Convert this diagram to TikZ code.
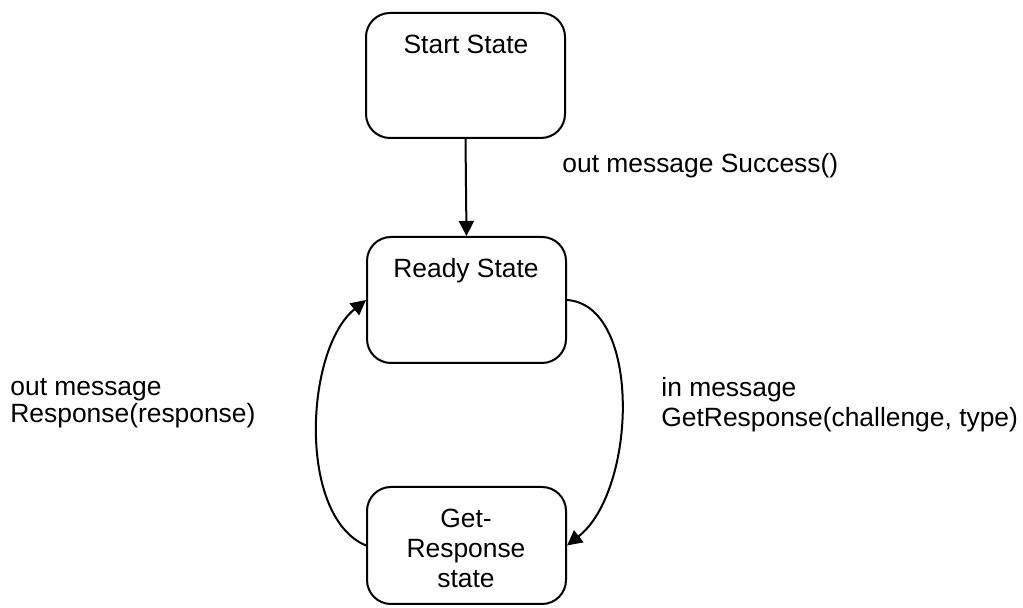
\documentclass[tikz,border=0pt]{standalone}
\usepackage{fontspec}
\setmainfont{Liberation Sans}
\usetikzlibrary{arrows.meta}
\begin{document}
\begin{tikzpicture}[x=0.5pt,y=-0.5pt,
  statebox/.style={draw,line width=1pt,rounded corners=12pt,inner sep=0pt},
  txt/.style={font=\fontsize{13.2}{15}\selectfont,inner sep=0pt},
  lbl/.style={font=\fontsize{13.2}{14}\selectfont,inner sep=0pt,align=left,anchor=base west},
  arr/.style={line width=1pt,-{Triangle[length=7.5pt,width=7.5pt]}}]
\useasboundingbox (0,0) rectangle (1023,608);
\node[statebox,minimum width=99.5pt,minimum height=62.5pt] (start) at (465.5,75.5) {};
\node[statebox,minimum width=99.5pt,minimum height=63pt] (ready) at (466.5,300) {};
\node[statebox,minimum width=99.5pt,minimum height=58.5pt] (get) at (466.5,545.5) {};
\node[txt,anchor=base] (starttxt) at (466,54) {Start State};
\node[txt,anchor=base] (readytxt) at (466,278) {Ready State};
\node[txt,anchor=base,align=center] (gettxt) at (466,588) {Get-\\Response\\state};
\draw[arr] (start.south) -- (ready.north);
\draw[arr] (get.west) .. controls +(-69,-29) and +(-61,49) .. (ready.west);
\draw[arr] (ready.east) .. controls +(75,5) and +(70,-55) .. (get.east);
\node[lbl] (l1) at (562,173) {out message Success()};
\node[lbl,font=\fontsize{13.2}{13.5}\selectfont] (l2) at (10,423) {out message\\Response(response)};
\node[lbl,font=\fontsize{13.2}{15}\selectfont] (l3) at (661,427) {in message\\GetResponse(challenge, type)};
\end{tikzpicture}
\end{document}
